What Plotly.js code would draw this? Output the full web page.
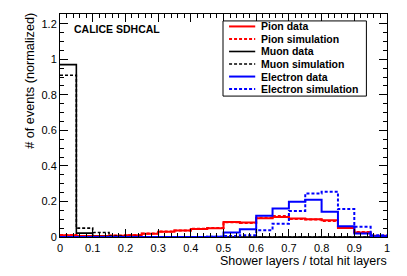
<!DOCTYPE html>
<html><head><meta charset="utf-8">
<script src="https://cdn.plot.ly/plotly-3.0.1.min.js"></script>
<style>html,body{margin:0;padding:0;background:#fff}#c{width:407px;height:276px}</style>
</head><body><div id="c"></div>
<script>
// Bin edges (ratio shower layers / total hit layers)
const binEdges = [0,0.05,0.1,0.15,0.2,0.25,0.3,0.35,0.4,0.45,0.5,0.55,0.6,0.65,0.7,0.75,0.8,0.85,0.9,0.95,1];
// Normalized counts per bin (20 bins)
const pionData =   [0.010,0.005,0.005,0.007,0.010,0.018,0.030,0.037,0.045,0.049,0.085,0.081,0.105,0.113,0.104,0.100,0.094,0.051,0.025,0.006];
const pionSim =    [0.011,0.006,0.006,0.008,0.011,0.020,0.031,0.036,0.046,0.050,0.083,0.079,0.108,0.118,0.101,0.098,0.090,0.055,0.028,0.007];
const muonData =   [0.970,0.022,0.003,0.001,0.001,0.000,0.000,0.000,0.000,0.000,0.000,0.000,0.000,0.000,0.000,0.000,0.000,0.000,0.000,0.000];
const muonSim =    [0.910,0.050,0.025,0.005,0.002,0.001,0.000,0.000,0.000,0.000,0.000,0.000,0.000,0.000,0.000,0.000,0.000,0.000,0.000,0.000];
const elecData =   [0.000,0.000,0.000,0.000,0.000,0.000,0.000,0.000,0.000,0.001,0.025,0.044,0.120,0.160,0.198,0.210,0.142,0.060,0.019,0.004];
const elecSim =    [0.000,0.000,0.000,0.000,0.000,0.000,0.000,0.000,0.000,0.001,0.005,0.010,0.038,0.075,0.147,0.245,0.255,0.157,0.057,0.010];

const seriesNames = ["Pion data","Pion simulation","Muon data","Muon simulation","Electron data","Electron simulation"];
const seriesValues = [pionData,pionSim,muonData,muonSim,elecData,elecSim];
const seriesColors = ["#ff0000","#ff0000","#000000","#000000","#0000ff","#0000ff"];
const seriesDash = ["solid","dash","solid","dash","solid","dash"];
const seriesWidth = [2,2,1.6,1.6,2,2];

const FONT = "Liberation Sans, Arial, Helvetica, sans-serif";

const traces = seriesValues.map((v,i)=>({
  type:'scatter', mode:'lines',
  x: binEdges,
  y: v.concat([v[v.length-1]]),
  line:{shape:'hv', color:seriesColors[i], width:seriesWidth[i], dash:seriesDash[i]==='dash'?'3px,2px':'solid'},
  name: seriesNames[i], showlegend:false, hoverinfo:'skip'
}));

// custom compact legend (ROOT TLegend style)
const shapes = [{type:'rect', xref:'x', yref:'y', x0:0.4985, x1:0.937, y0:0.793, y1:1.216,
  line:{color:'#000', width:1}, fillcolor:'#fff', layer:'above'}];
const annotations = [];
const rowTop = 1.185, rowStep = 0.0705;
seriesNames.forEach((n,i)=>{
  const yy = rowTop - i*rowStep;
  shapes.push({type:'line', xref:'x', yref:'y', x0:0.517, x1:0.597, y0:yy, y1:yy,
    line:{color:seriesColors[i], width:seriesWidth[i], dash:seriesDash[i]==='dash'?'3px,2px':'solid'}, layer:'above'});
  annotations.push({xref:'x', yref:'y', x:0.61, y:yy, text:n, showarrow:false, xanchor:'left', yanchor:'middle',
    font:{family:FONT, size:10.5, color:'#000', weight:'bold'}});
});
annotations.push({xref:'x', yref:'y', x:0.037, y:1.173, text:'CALICE SDHCAL', showarrow:false, xanchor:'left', yanchor:'middle',
  font:{family:FONT, size:10.5, color:'#000', weight:'bold'}});
annotations.push({xref:'paper', yref:'paper', x:1.003, y:-0.107, text:'Shower layers / total hit layers', showarrow:false,
  xanchor:'right', yanchor:'middle', borderpad:0, font:{family:FONT, size:12.5, color:'#000'}});
annotations.push({xref:'paper', yref:'paper', x:-0.0905, y:0.702, text:'# of events (normalized)', showarrow:false,
  textangle:-90, xanchor:'center', yanchor:'middle', font:{family:FONT, size:12.7, color:'#000'}});

const layout = {
  width:407, height:276,
  margin:{l:60, r:20, t:14, b:39},
  paper_bgcolor:'#fff', plot_bgcolor:'#fff',
  showlegend:false,
  xaxis:{range:[0,1], tickmode:'linear', tick0:0, dtick:0.1, ticks:'inside', ticklen:8, tickcolor:'#000',
    minor:{dtick:0.02, ticklen:4, ticks:'inside', tickcolor:'#000'},
    showline:true, linecolor:'#000', linewidth:1, mirror:'ticks', showgrid:false, zeroline:false,
    ticklabelstandoff:1,
    tickfont:{family:FONT, size:11, color:'#000'}},
  yaxis:{range:[0,1.255], tickmode:'linear', tick0:0, dtick:0.2, ticks:'inside', ticklen:8, tickcolor:'#000',
    minor:{dtick:0.05, ticklen:4, ticks:'inside', tickcolor:'#000'},
    showline:true, linecolor:'#000', linewidth:1, mirror:'ticks', showgrid:false, zeroline:false,
    tickfont:{family:FONT, size:11, color:'#000'}},
  shapes:shapes, annotations:annotations
};
Plotly.newPlot('c', traces, layout, {staticPlot:true, displayModeBar:false});
</script></body></html>
